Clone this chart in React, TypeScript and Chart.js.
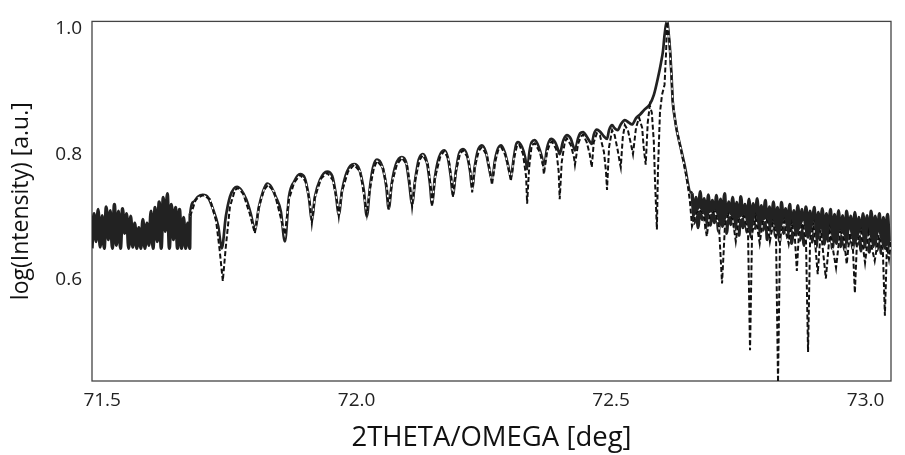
import React, { useEffect, useRef } from "react";
import { Chart, registerables } from "chart.js";

Chart.register(...registerables);

// ---- axis ticks ----
const xTickValues = [71.5, 72.0, 72.5, 73.0];
const yTickValues = [0.6, 0.8, 1.0];

// ---- measured scan: noisy low-angle part, fixed scan step ----
const scanStep = 0.004;
const leftNoiseStart = 71.48;
const measuredLeftNoise = [
  0.639, 0.694, 0.650, 0.701, 0.641, 0.691, 0.639, 0.705, 0.653, 0.699,
  0.639, 0.709, 0.644, 0.698, 0.639, 0.702, 0.663, 0.694, 0.639, 0.690,
  0.641, 0.679, 0.639, 0.672, 0.639, 0.685, 0.639, 0.679, 0.644, 0.698,
  0.639, 0.704, 0.650, 0.713, 0.639, 0.720, 0.666, 0.726, 0.639, 0.709,
  0.653, 0.704, 0.639, 0.701, 0.639, 0.688, 0.639, 0.679, 0.639,
];

// ---- measured scan: fringe + substrate peak part ----
const measuredFringeAngle = [
  71.673, 71.680, 71.688, 71.698, 71.708, 71.718, 71.728, 71.735, 71.743, 71.751,
  71.759, 71.765, 71.773, 71.783, 71.792, 71.800, 71.808, 71.816, 71.824, 71.832,
  71.841, 71.851, 71.859, 71.867, 71.877, 71.889, 71.898, 71.906, 71.912, 71.918,
  71.928, 71.942, 71.952, 71.959, 71.965, 71.971, 71.981, 71.995, 72.005, 72.014,
  72.020, 72.026, 72.032, 72.040, 72.050, 72.058, 72.063, 72.069, 72.077, 72.089,
  72.097, 72.103, 72.109, 72.115, 72.122, 72.130, 72.138, 72.144, 72.148, 72.154,
  72.162, 72.172, 72.179, 72.185, 72.189, 72.195, 72.201, 72.209, 72.217, 72.223,
  72.227, 72.232, 72.238, 72.246, 72.254, 72.260, 72.266, 72.272, 72.278, 72.284,
  72.291, 72.297, 72.303, 72.309, 72.313, 72.317, 72.325, 72.331, 72.335, 72.340,
  72.344, 72.350, 72.358, 72.364, 72.368, 72.374, 72.378, 72.382, 72.390, 72.395,
  72.399, 72.405, 72.409, 72.413, 72.421, 72.425, 72.429, 72.435, 72.439, 72.445,
  72.452, 72.458, 72.462, 72.466, 72.472, 72.478, 72.486, 72.492, 72.496, 72.502,
  72.507, 72.513, 72.519, 72.527, 72.535, 72.541, 72.549, 72.557, 72.566, 72.576,
  72.584, 72.592, 72.598, 72.602, 72.605, 72.610, 72.614, 72.616, 72.619, 72.621,
  72.625, 72.629, 72.635, 72.641, 72.647, 72.651, 72.655,
];
const measuredFringeIntensity = [
  0.694, 0.713, 0.721, 0.724, 0.720, 0.701, 0.674, 0.639, 0.690, 0.721,
  0.734, 0.737, 0.732, 0.717, 0.694, 0.669, 0.705, 0.729, 0.742, 0.737,
  0.721, 0.698, 0.650, 0.721, 0.745, 0.757, 0.751, 0.721, 0.685, 0.721,
  0.748, 0.761, 0.754, 0.726, 0.693, 0.729, 0.761, 0.773, 0.765, 0.732,
  0.690, 0.735, 0.767, 0.780, 0.770, 0.739, 0.702, 0.742, 0.772, 0.784,
  0.776, 0.745, 0.710, 0.748, 0.780, 0.789, 0.776, 0.742, 0.710, 0.753,
  0.784, 0.795, 0.784, 0.753, 0.724, 0.761, 0.789, 0.797, 0.787, 0.761,
  0.734, 0.768, 0.794, 0.803, 0.792, 0.768, 0.748, 0.780, 0.798, 0.803,
  0.792, 0.773, 0.753, 0.784, 0.803, 0.808, 0.800, 0.784, 0.765, 0.795,
  0.808, 0.811, 0.800, 0.784, 0.768, 0.798, 0.809, 0.813, 0.808, 0.798,
  0.789, 0.808, 0.816, 0.819, 0.813, 0.803, 0.795, 0.814, 0.822, 0.824,
  0.817, 0.809, 0.805, 0.820, 0.828, 0.825, 0.817, 0.813, 0.827, 0.835,
  0.830, 0.827, 0.836, 0.843, 0.839, 0.836, 0.846, 0.852, 0.860, 0.868,
  0.883, 0.910, 0.934, 0.953, 0.978, 1.000, 0.973, 0.953, 0.910, 0.874,
  0.847, 0.827, 0.805, 0.784, 0.761, 0.742, 0.729,
];

// ---- measured scan: noisy high-angle tail, fixed scan step ----
const rightNoiseStart = 72.659;
const measuredRightNoise = [
  0.726, 0.679, 0.720, 0.672, 0.729, 0.685, 0.718, 0.668, 0.724, 0.676,
  0.715, 0.680, 0.723, 0.666, 0.717, 0.674, 0.726, 0.663, 0.713, 0.677,
  0.720, 0.669, 0.712, 0.660, 0.721, 0.672, 0.709, 0.665, 0.717, 0.657,
  0.710, 0.671, 0.718, 0.661, 0.707, 0.668, 0.715, 0.653, 0.705, 0.666,
  0.713, 0.658, 0.704, 0.650, 0.712, 0.663, 0.702, 0.655, 0.709, 0.647,
  0.699, 0.660, 0.707, 0.652, 0.701, 0.644, 0.705, 0.657, 0.698, 0.649,
  0.704, 0.641, 0.696, 0.653, 0.702, 0.646, 0.694, 0.650, 0.701, 0.639,
  0.693, 0.647, 0.699, 0.642, 0.691, 0.636, 0.698, 0.646, 0.690, 0.638,
  0.696, 0.644, 0.688, 0.635, 0.694, 0.641, 0.691, 0.633, 0.698, 0.642,
  0.690, 0.636, 0.694, 0.631, 0.688, 0.639, 0.693, 0.635,
];

// ---- simulated curve (dashed) ----
const simAngle = [
  71.673, 71.684, 71.698, 71.712, 71.724, 71.731, 71.737, 71.743, 71.751, 71.761,
  71.767, 71.777, 71.790, 71.800, 71.808, 71.818, 71.826, 71.838, 71.849, 71.859,
  71.867, 71.877, 71.889, 71.900, 71.908, 71.912, 71.918, 71.930, 71.942, 71.953,
  71.961, 71.965, 71.971, 71.983, 71.995, 72.007, 72.014, 72.020, 72.026, 72.034,
  72.040, 72.052, 72.060, 72.063, 72.069, 72.079, 72.089, 72.099, 72.105, 72.109,
  72.115, 72.124, 72.130, 72.140, 72.146, 72.148, 72.154, 72.164, 72.172, 72.181,
  72.187, 72.189, 72.195, 72.203, 72.209, 72.219, 72.225, 72.227, 72.232, 72.240,
  72.246, 72.256, 72.262, 72.266, 72.272, 72.278, 72.284, 72.293, 72.299, 72.303,
  72.309, 72.315, 72.319, 72.327, 72.333, 72.335, 72.339, 72.344, 72.350, 72.360,
  72.366, 72.368, 72.374, 72.380, 72.384, 72.392, 72.397, 72.399, 72.403, 72.409,
  72.413, 72.421, 72.427, 72.429, 72.435, 72.441, 72.445, 72.452, 72.458, 72.462,
  72.466, 72.472, 72.478, 72.486, 72.490, 72.492, 72.496, 72.502, 72.507, 72.513,
  72.517, 72.519, 72.523, 72.527, 72.533, 72.539, 72.543, 72.549, 72.555, 72.561,
  72.564, 72.568, 72.572, 72.576, 72.580, 72.584, 72.586, 72.590, 72.592, 72.596,
  72.600, 72.605, 72.608, 72.610, 72.614, 72.616, 72.619, 72.621, 72.625, 72.629,
  72.635, 72.641, 72.647, 72.651, 72.655, 72.659, 72.667, 72.674, 72.682, 72.688,
  72.694, 72.704, 72.712, 72.718, 72.724, 72.731, 72.739, 72.745, 72.751, 72.761,
  72.769, 72.773, 72.777, 72.784, 72.792, 72.798, 72.806, 72.812, 72.818, 72.824,
  72.828, 72.832, 72.840, 72.849, 72.855, 72.861, 72.865, 72.869, 72.877, 72.883,
  72.887, 72.891, 72.898, 72.906, 72.912, 72.922, 72.930, 72.942, 72.950, 72.957,
  72.963, 72.969, 72.975, 72.979, 72.983, 72.991, 72.999, 73.006, 73.018, 73.026,
  73.034, 73.038, 73.042, 73.046, 73.050,
];
const simIntensity = [
  0.690, 0.717, 0.724, 0.717, 0.682, 0.635, 0.587, 0.642, 0.705, 0.732,
  0.735, 0.726, 0.694, 0.663, 0.705, 0.732, 0.740, 0.729, 0.694, 0.661,
  0.717, 0.743, 0.756, 0.745, 0.713, 0.679, 0.720, 0.750, 0.759, 0.748,
  0.717, 0.690, 0.729, 0.761, 0.772, 0.761, 0.726, 0.694, 0.734, 0.767,
  0.778, 0.767, 0.732, 0.701, 0.742, 0.772, 0.783, 0.772, 0.739, 0.705,
  0.748, 0.780, 0.787, 0.773, 0.735, 0.705, 0.751, 0.784, 0.794, 0.780,
  0.745, 0.720, 0.761, 0.789, 0.795, 0.783, 0.753, 0.728, 0.767, 0.794,
  0.800, 0.787, 0.761, 0.740, 0.776, 0.795, 0.800, 0.786, 0.764, 0.746,
  0.781, 0.802, 0.805, 0.789, 0.753, 0.710, 0.768, 0.803, 0.806, 0.792,
  0.772, 0.757, 0.792, 0.806, 0.809, 0.797, 0.761, 0.717, 0.776, 0.808,
  0.814, 0.803, 0.784, 0.772, 0.805, 0.817, 0.820, 0.808, 0.789, 0.768,
  0.808, 0.822, 0.819, 0.792, 0.761, 0.732, 0.800, 0.827, 0.819, 0.795,
  0.776, 0.768, 0.816, 0.835, 0.827, 0.805, 0.789, 0.831, 0.847, 0.831,
  0.800, 0.772, 0.839, 0.866, 0.855, 0.808, 0.753, 0.669, 0.761, 0.855,
  0.883, 0.899, 0.950, 1.000, 0.973, 0.950, 0.906, 0.874, 0.847, 0.827,
  0.805, 0.781, 0.757, 0.737, 0.713, 0.674, 0.694, 0.701, 0.691, 0.658,
  0.694, 0.698, 0.674, 0.583, 0.679, 0.694, 0.685, 0.650, 0.685, 0.691,
  0.666, 0.477, 0.663, 0.688, 0.647, 0.682, 0.685, 0.650, 0.679, 0.663,
  0.426, 0.658, 0.682, 0.646, 0.677, 0.658, 0.603, 0.663, 0.679, 0.650,
  0.474, 0.653, 0.676, 0.598, 0.669, 0.591, 0.666, 0.608, 0.666, 0.658,
  0.614, 0.663, 0.642, 0.568, 0.647, 0.666, 0.616, 0.663, 0.619, 0.660,
  0.635, 0.532, 0.642, 0.622, 0.650,
];

const FONT = "'Open Sans', 'Noto Sans', 'DejaVu Sans', sans-serif";

const framePlugin = {
  id: "frameBox",
  beforeDatasetsDraw(chart: any) {
    const { ctx, chartArea } = chart;
    const { left, top, right, bottom } = chartArea;
    ctx.save();
    ctx.strokeStyle = "#444";
    ctx.lineWidth = 1.3;
    ctx.strokeRect(left, top, right - left, bottom - top);
    ctx.restore();
  },
};

export default function App() {
  const ref = useRef<HTMLCanvasElement>(null);

  useEffect(() => {
    const canvas = ref.current;
    if (!canvas) return;

    const measured: { x: number; y: number }[] = [];
    measuredLeftNoise.forEach((v, i) =>
      measured.push({ x: +(leftNoiseStart + i * scanStep).toFixed(4), y: v })
    );
    const nF = Math.min(measuredFringeAngle.length, measuredFringeIntensity.length);
    for (let i = 0; i < nF; i++) measured.push({ x: measuredFringeAngle[i], y: measuredFringeIntensity[i] });
    measuredRightNoise.forEach((v, i) =>
      measured.push({ x: +(rightNoiseStart + i * scanStep).toFixed(4), y: v })
    );

    const sim: { x: number; y: number }[] = [];
    const nS = Math.min(simAngle.length, simIntensity.length);
    for (let i = 0; i < nS; i++) sim.push({ x: simAngle[i], y: simIntensity[i] });

    const fringeStart = measuredFringeAngle[0];
    const fringeEnd = measuredFringeAngle[nF - 1];

    const chart = new Chart(canvas, {
      type: "line",
      data: {
        datasets: [
          {
            label: "Simulation",
            data: sim,
            borderColor: "#111",
            borderWidth: 2,
            borderDash: [5, 2.5],
            pointRadius: 0,
            tension: 0,
            fill: false,
          },
          {
            label: "Simulation gaps",
            data: sim,
            borderColor: "#ffffff",
            borderWidth: 1.3,
            pointRadius: 0,
            tension: 0,
            fill: false,
          },
          {
            label: "Measured",
            data: measured,
            borderColor: "#222",
            borderWidth: 2.7,
            pointRadius: 0,
            cubicInterpolationMode: "monotone",
            fill: false,
            segment: {
              borderWidth: (ctx: any) =>
                ctx.p0.parsed.x < fringeStart - 0.0005 || ctx.p0.parsed.x > fringeEnd + 0.0005
                  ? 3.4
                  : undefined,
            },
          },
        ],
      },
      options: {
        responsive: false,
        animation: false,
        events: [],
        layout: { padding: { left: 0, right: 14, top: 18, bottom: 0 } },
        plugins: {
          legend: { display: false },
          tooltip: { enabled: false },
        },
        scales: {
          x: {
            type: "linear",
            min: 71.48,
            max: 73.05,
            grid: { display: false, drawTicks: false },
            border: { display: false },
            afterBuildTicks: (scale: any) => {
              scale.ticks = xTickValues.map((v) => ({ value: v }));
            },
            afterFit: (scale: any) => {
              scale.height = 74;
            },
            ticks: {
              padding: 8,
              color: "#222",
              font: { family: FONT, size: 19 },
              maxRotation: 0,
              autoSkip: false,
              callback: (v: any) => Number(v).toFixed(1),
            },
            title: {
              display: true,
              text: "2THETA/OMEGA [deg]",
              color: "#111",
              font: { family: FONT, size: 27.5 },
              padding: { top: 0, bottom: 0 },
            },
          },
          y: {
            type: "linear",
            min: 0.428,
            max: 1.0,
            grid: { display: false, drawTicks: false },
            border: { display: false },
            afterBuildTicks: (scale: any) => {
              scale.ticks = yTickValues.map((v) => ({ value: v }));
            },
            afterFit: (scale: any) => {
              scale.width = 92;
            },
            ticks: {
              padding: 10,
              labelOffset: 7,
              color: "#222",
              font: { family: FONT, size: 19 },
              callback: (v: any) => Number(v).toFixed(1),
            },
            title: {
              display: true,
              text: "log(Intensity) [a.u.]",
              color: "#111",
              font: { family: FONT, size: 23 },
              padding: { top: 8, bottom: 0 },
            },
          },
        },
      },
      plugins: [framePlugin],
    } as any);

    return () => chart.destroy();
  }, []);

  return (
    <div
      style={{
        position: "fixed",
        left: 0,
        top: 0,
        width: 905,
        height: 455,
        background: "#fff",
      }}
    >
      <canvas ref={ref} width={905} height={455} style={{ display: "block" }} />
    </div>
  );
}
